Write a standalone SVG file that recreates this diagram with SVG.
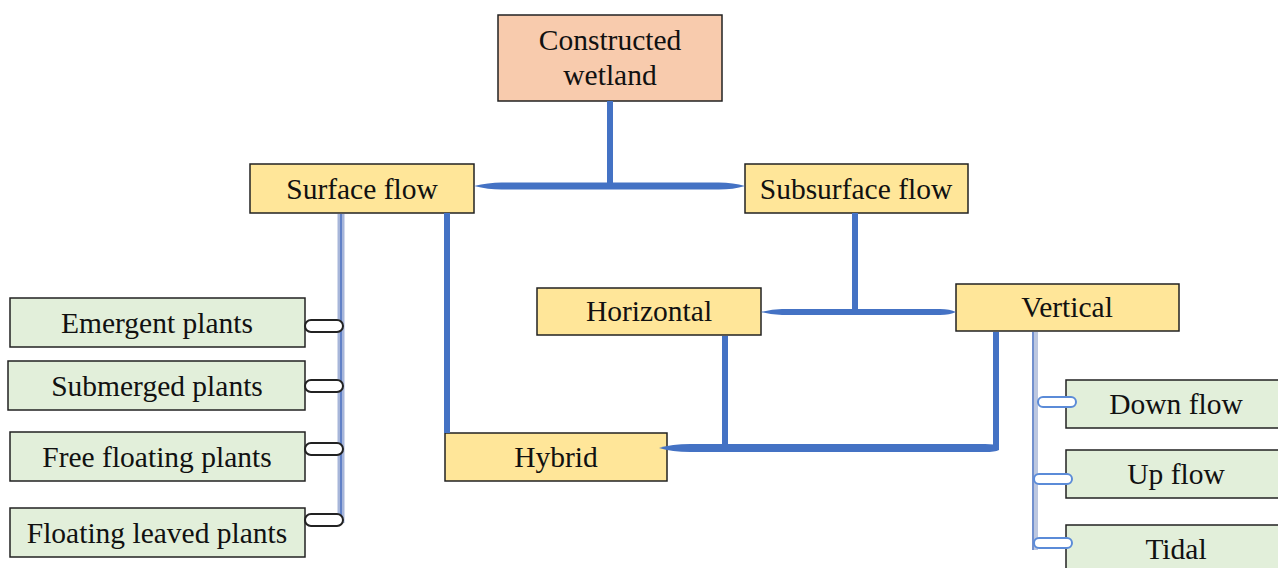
<svg xmlns="http://www.w3.org/2000/svg" width="1278" height="568" viewBox="0 0 1278 568">
<style>
.box{stroke:#222;stroke-width:1.5}
.y{fill:#FFE699}
.g{fill:#E2EFDA}
.p{fill:#F8CBAD}
.t{font-family:"Liberation Serif","Times New Roman",serif;font-size:29.5px;fill:#111;text-anchor:middle}
.c{stroke:#4472C4;stroke-width:6;fill:none}
.cf{fill:#4472C4}
.pillk{fill:#fff;stroke:#222;stroke-width:2}
.pillb{fill:#fff;stroke:#5B8BD8;stroke-width:2}
</style>
<rect width="1278" height="568" fill="#fff"/>
<g id="n-constructed"><rect class="box p" x="498" y="15" width="224" height="86"/><text class="t" x="610" y="50">Constructed</text><text class="t" x="610" y="85">wetland</text></g>
<g id="n-surface"><rect class="box y" x="250" y="164" width="224" height="49"/><text class="t" x="362" y="199">Surface flow</text></g>
<g id="n-subsurface"><rect class="box y" x="745" y="164" width="223" height="49"/><text class="t" x="856" y="199">Subsurface flow</text></g>
<g id="n-horizontal"><rect class="box y" x="537" y="288" width="224" height="47"/><text class="t" x="649" y="321">Horizontal</text></g>
<g id="n-vertical"><rect class="box y" x="956" y="284" width="223" height="47"/><text class="t" x="1067" y="317">Vertical</text></g>
<g id="n-hybrid"><rect class="box y" x="445" y="433" width="222" height="48"/><text class="t" x="556" y="467">Hybrid</text></g>
<g id="n-emergent"><rect class="box g" x="10" y="298" width="295" height="49"/><text class="t" x="157" y="333">Emergent plants</text></g>
<g id="n-submerged"><rect class="box g" x="8" y="361" width="297" height="49"/><text class="t" x="157" y="396">Submerged plants</text></g>
<g id="n-free"><rect class="box g" x="10" y="432" width="295" height="49"/><text class="t" x="157" y="467">Free floating plants</text></g>
<g id="n-floating"><rect class="box g" x="10" y="508" width="295" height="49"/><text class="t" x="157" y="543">Floating leaved plants</text></g>
<g id="n-down"><rect class="box g" x="1066" y="380" width="220" height="48"/><text class="t" x="1176" y="414">Down flow</text></g>
<g id="n-up"><rect class="box g" x="1066" y="450" width="220" height="48"/><text class="t" x="1176" y="484">Up flow</text></g>
<g id="n-tidal"><rect class="box g" x="1066" y="525" width="220" height="50"/><text class="t" x="1176" y="559">Tidal</text></g>
<g id="connectors">
  <line class="c" x1="610" y1="101" x2="610" y2="185"/>
  <path class="cf" d="M474,186 Q490,182 505,182.5 L715,182.5 Q732,182 745,186 Q732,190 715,189.5 L505,189.5 Q490,190 474,186 Z"/>
  <line class="c" x1="447" y1="213" x2="447" y2="433"/>
  <line class="c" x1="855" y1="213" x2="855" y2="311"/>
  <path class="cf" d="M761,312 Q772,309 782,309 L940,309 Q950,309 956,312 Q950,315 940,315 L782,315 Q772,315 761,312 Z"/>
  <line class="c" x1="725" y1="336" x2="725" y2="446"/>
  <line class="c" x1="996" y1="332" x2="996" y2="447"/>
  <path class="cf" d="M659,448 Q672,444 690,444 L985,444 Q995,444 999,446 L999,450 Q995,452 985,452 L690,452 Q672,452 659,448 Z"/>
  <line x1="341" y1="214" x2="341" y2="523" stroke="#A7B6DA" stroke-width="7"/>
  <line x1="341" y1="214" x2="341" y2="523" stroke="#4A6FC0" stroke-width="1.5"/>
  <rect class="pillk" x="305" y="320" width="38" height="12" rx="6"/>
  <rect class="pillk" x="305" y="380" width="38" height="12" rx="6"/>
  <rect class="pillk" x="305" y="443" width="38" height="12" rx="6"/>
  <rect class="pillk" x="305" y="514" width="38" height="12" rx="6"/>
  <line x1="1035" y1="332" x2="1035" y2="550" stroke="#BCC7E0" stroke-width="6"/>
  <line x1="1033" y1="332" x2="1033" y2="550" stroke="#5A7EC8" stroke-width="1.5"/>
  <rect class="pillb" x="1038" y="397" width="38" height="10" rx="5"/>
  <rect class="pillb" x="1034" y="474" width="38" height="10" rx="5"/>
  <rect class="pillb" x="1034" y="538" width="38" height="10" rx="5"/>
</g>
</svg>
